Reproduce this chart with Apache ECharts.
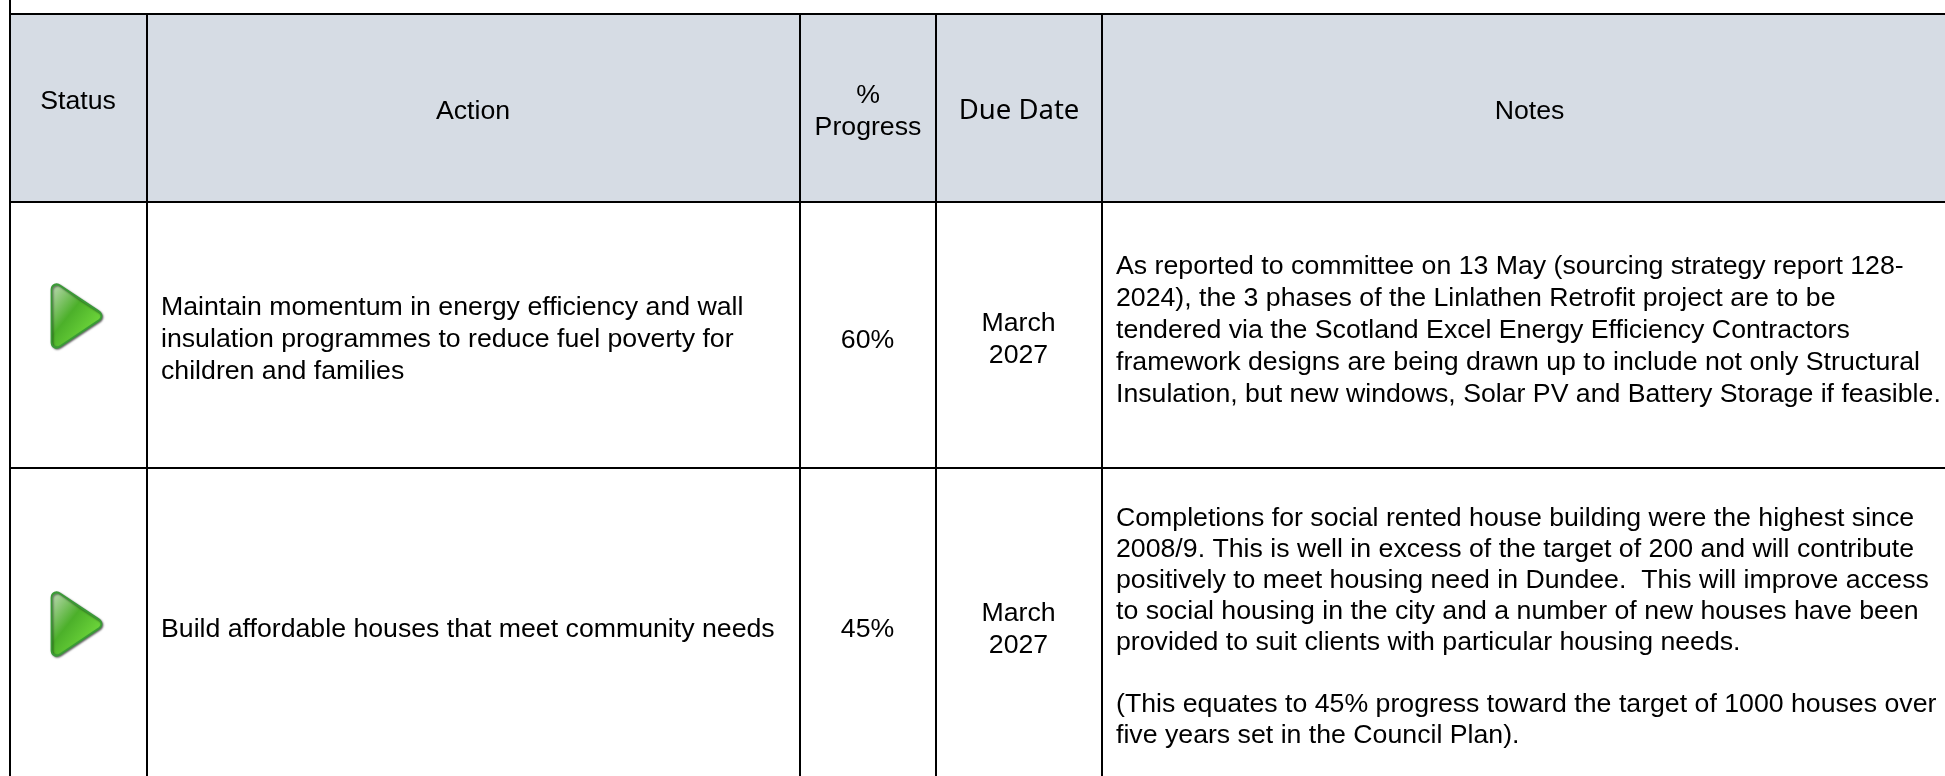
<!DOCTYPE html>
<html><head><meta charset="utf-8">
<style>html,body{margin:0;padding:0;background:#fff}#c{width:1945px;height:776px}</style>
<script src="https://cdn.jsdelivr.net/npm/echarts@6/dist/echarts.min.js"></script>
</head><body><div id="c"></div>
<script>
const columns = ['Status', 'Action', '%\nProgress', 'Due Date', 'Notes'];
const statuses = ['on track', 'on track'];
const actions = [
 'Maintain momentum in energy efficiency and wall\ninsulation programmes to reduce fuel poverty for\nchildren and families',
 'Build affordable houses that meet community needs'
];
const progress = ['60%', '45%'];
const dueDates = ['March\n2027', 'March\n2027'];
const notes = [
 'As reported to committee on 13 May (sourcing strategy report 128-\n2024), the 3 phases of the Linlathen Retrofit project are to be\ntendered via the Scotland Excel Energy Efficiency Contractors\nframework designs are being drawn up to include not only Structural\nInsulation, but new windows, Solar PV and Battery Storage if feasible.',
 'Completions for social rented house building were the highest since\n2008/9. This is well in excess of the target of 200 and will contribute\npositively to meet housing need in Dundee.  This will improve access\nto social housing in the city and a number of new houses have been\nprovided to suit clients with particular housing needs.\n\n(This equates to 45% progress toward the target of 1000 houses over\nfive years set in the Council Plan).'
];

const W = 1945, H = 776;
const colX = [10, 147, 800, 936, 1102, 1960];
const headY = [14, 202];
const rowY = [202, 468, 800];
const FS = 26.7;
const BLACK = '#000', HEAD = '#d6dce4', TXT = '#000';
const FONT = '"Liberation Sans", Arial, sans-serif';
const headCx = [78, 473, 868, 1019, 1529.5];
const headCy = [101.5, 111.5, 111.5, 111, 111.5];
const midAction = [339.5, 629.5];
const midProgress = [340.5, 629.5];
const midDue = [339.5, 629.5];
const midNotes = [330.5, 627];
const notesLH = [32, 31];
const statusY = [316, 624];

function cell(api, x0, x1, y0, y1, fill) {
  const a = api.coord([x0, y0]), b = api.coord([x1, y1]);
  return {type:'rect', shape:{x:a[0], y:a[1], width:b[0]-a[0], height:b[1]-a[1]},
    style:{fill:fill, stroke:BLACK, lineWidth:2}};
}
function label(api, x, y, text, align, extra) {
  const p = api.coord([x, y]);
  return {type:'text', x:p[0], y:p[1], style:Object.assign({text:text, fill:TXT,
    font:FS+'px '+FONT, lineHeight:32, align:align, verticalAlign:'middle'}, extra||{})};
}

const headerData = columns.map((c,i)=>[i, 0]);
const rowData = [];
statuses.forEach((s,r)=>{ for (let c=0;c<5;c++) rowData.push([c,r]); });

const tri = 'path://M0,5 C0,0 5,-2 9,1 L47,27 C51,30 51,34 47,37 L9,63 C5,66 0,64 0,59 Z';

const option = {
  animation:false,
  backgroundColor:'#fff',
  grid:{left:0,right:0,top:0,bottom:0,containLabel:false},
  xAxis:{type:'value',min:0,max:W,show:false},
  yAxis:{type:'value',min:0,max:H,inverse:true,show:false},
  series:[
   {type:'custom',coordinateSystem:'cartesian2d',silent:true,clip:true,data:[[0,0]],
    renderItem(p,api){
      const a = api.coord([colX[0],-10]), b = api.coord([colX[0],headY[0]]);
      return {type:'line',shape:{x1:a[0],y1:a[1],x2:b[0],y2:b[1]},style:{stroke:BLACK,lineWidth:2}};
    }},
   {type:'custom',coordinateSystem:'cartesian2d',silent:true,clip:true,data:headerData,
    renderItem(p,api){
      const c = api.value(0);
      const extra = c===3 ? {font:'27.5px "Noto Sans", Inter, sans-serif'} : {};
      return {type:'group',children:[cell(api,colX[c],colX[c+1],headY[0],headY[1],HEAD),
        label(api, headCx[c], headCy[c], columns[c], 'center', extra)]};
    }},
   {type:'custom',coordinateSystem:'cartesian2d',silent:true,clip:true,data:rowData,
    renderItem(p,api){
      const c = api.value(0), r = api.value(1);
      const kids = [cell(api,colX[c],colX[c+1],rowY[r],rowY[r+1],'#fff')];
      if (c===1) kids.push(label(api,161,midAction[r],actions[r],'left'));
      if (c===2) kids.push(label(api,867.5,midProgress[r],progress[r],'center'));
      if (c===3) kids.push(label(api,1018.5,midDue[r],dueDates[r],'center'));
      if (c===4) kids.push(label(api,1116,midNotes[r],notes[r],'left',{lineHeight:notesLH[r]}));
      return {type:'group',children:kids};
    }},
   {type:'scatter',coordinateSystem:'cartesian2d',silent:true,z:5,
    data:statuses.map((s,r)=>[76.5,statusY[r]]),
    symbol:tri,symbolSize:[50,63],
    itemStyle:{color:{type:'linear',x:0,y:0,x2:1,y2:1,colorStops:[
      {offset:0,color:'#c4dcbc'},{offset:0.42,color:'#4cb02a'},{offset:0.75,color:'#6cd43a'},{offset:1,color:'#5fc435'}]},
      opacity:1,borderColor:'#3a9a36',borderWidth:2,
      shadowColor:'rgba(0,0,0,0.5)',shadowBlur:2,shadowOffsetX:1,shadowOffsetY:1}}
  ]
};
echarts.init(document.getElementById('c'),null,{renderer:'canvas'}).setOption(option);
</script></body></html>
